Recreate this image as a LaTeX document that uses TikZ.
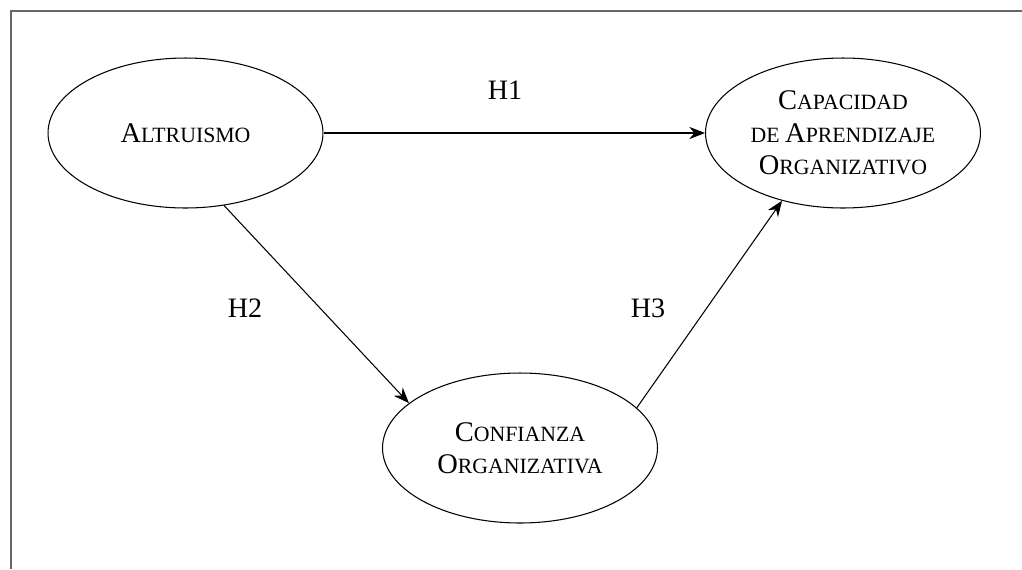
\documentclass[tikz,border=0pt]{standalone}
\usepackage{fontspec}
\setmainfont{Liberation Serif}
\usepackage{tikz}
\usetikzlibrary{arrows.meta,calc,positioning,shapes.geometric}
\newcommand{\fsc}[2]{#1{\fontsize{12.4}{18.5}\selectfont #2}}

\begin{document}
\begin{tikzpicture}[x=0.02cm, y=-0.02cm,
    construct/.style={draw, ellipse, line width=0.6pt, inner sep=0pt,
        minimum width=5.5cm, minimum height=3cm, align=center,
        font=\fontsize{16.2}{18.5}\selectfont},
    hyp/.style={font=\fontsize{16}{18.5}\selectfont},
    path/.style={-{Stealth[length=9pt, width=7pt, inset=3pt]}, line width=0.6pt}]
    \useasboundingbox (0,0) rectangle (1022,569);
    % Frame (only top and left edges visible)
    \draw[black!60, line width=0.8pt] (1022,11) -- (11,11) -- (11,569);

    % Constructs
    \node[construct] (altr) at (185.5,133) {\fsc{A}{LTRUISMO}};
    \node[construct] (cap) at (843,133) {\fsc{C}{APACIDAD}\\\fsc{}{DE }\fsc{A}{PRENDIZAJE}\\\fsc{O}{RGANIZATIVO}};
    \node[construct] (conf) at (520,448) {\fsc{C}{ONFIANZA}\\\fsc{O}{RGANIZATIVA}};

    % Hypotheses
    \draw[path] (altr.east) -- (cap.west);
    \draw[path] (altr.-62.8) -- (conf.158.8);
    \draw[path] (conf.19.9) -- (cap.228.7);

    % Labels
    \node[hyp] (h1) at (505,90) {H1};
    \node[hyp] (h2) at (245,308) {H2};
    \node[hyp] (h3) at (648,308) {H3};
\end{tikzpicture}
\end{document}
